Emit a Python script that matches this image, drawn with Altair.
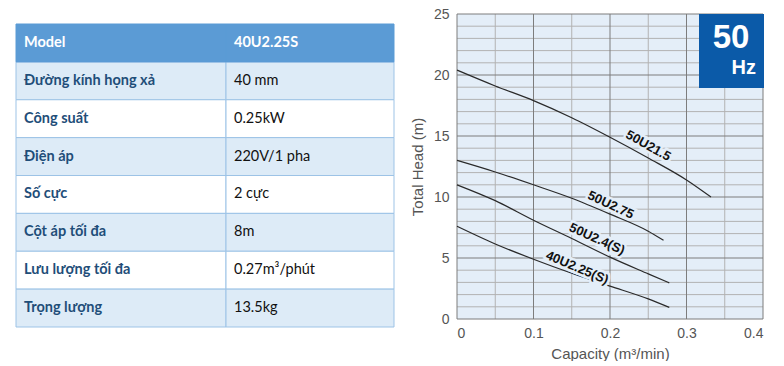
import altair as alt
import pandas as pd

# ---------------- data ----------------
spec_labels = ["Model", "Đường kính họng xả", "Công suất", "Điện áp", "Số cực",
               "Cột áp tối đa", "Lưu lượng tối đa", "Trọng lượng"]
spec_values = ["40U2.25S", "40 mm", "0.25kW", "220V/1 pha", "2 cực",
               "8m", "0.27m³/phút", "13.5kg"]

models = ["50U21.5", "50U2.75", "50U2.4(S)", "40U2.25(S)"]
cap_50U21_5 = [0, 0.05, 0.1, 0.15, 0.2, 0.25, 0.3, 0.332]
head_50U21_5 = [20.4, 19.1, 17.9, 16.5, 14.9, 13.2, 11.4, 10.0]
cap_50U2_75 = [0, 0.05, 0.1, 0.15, 0.2, 0.25, 0.27]
head_50U2_75 = [13.0, 12.05, 11.0, 9.9, 8.6, 7.2, 6.45]
cap_50U2_4S = [0, 0.05, 0.1, 0.15, 0.2, 0.25, 0.2775]
head_50U2_4S = [11.0, 9.7, 8.1, 6.6, 5.07, 3.7, 2.96]
cap_40U2_25S = [0, 0.05, 0.1, 0.15, 0.2, 0.25, 0.2775]
head_40U2_25S = [7.6, 6.15, 4.9, 3.75, 2.7, 1.65, 0.95]

label_cap = [0.250, 0.201, 0.183, 0.157]
label_head = [14.2, 9.34, 6.56, 4.2]
label_angle = [29, 25, 24, 23]

x_ticks = [0, 0.1, 0.2, 0.3, 0.4]
y_ticks = [0, 5, 10, 15, 20, 25]
x_grid = [round(0.05 * k, 2) for k in range(9)]
y_grid = list(range(0, 26))

# ---------------- table ----------------
HEADER_BLUE = "#5b9bd5"
ROW_BLUE = "#ddebf7"
BORDER = "#9dc3e6"
TXT_BLUE = "#1f4e79"
COL_SPLIT = 210 / 378  # fraction of table width for first column

rows = []
for i, (lab, val) in enumerate(zip(spec_labels, spec_values)):
    if i == 0:
        fill = HEADER_BLUE
    elif i % 2 == 1:
        fill = ROW_BLUE
    else:
        fill = "#ffffff"
    rows.append(dict(row=i, row2=i + 1, rowc=i + 0.5, x0=0, x1=COL_SPLIT, fill=fill,
                     text=lab, col=0))
    rows.append(dict(row=i, row2=i + 1, rowc=i + 0.5, x0=COL_SPLIT, x1=1, fill=fill,
                     text=val, col=1))
tdf = pd.DataFrame(rows)

TOP_OFFSET = 10 / 37.875
yscale = alt.Scale(domain=[-TOP_OFFSET, 8], reverse=True)
xscale = alt.Scale(domain=[0, 1])

tbase = alt.Chart(tdf)
cells_body = tbase.transform_filter("datum.row > 0").mark_rect(
    stroke=BORDER, strokeWidth=1).encode(
    x=alt.X("x0:Q", scale=xscale, axis=None),
    x2="x1:Q",
    y=alt.Y("row:Q", scale=yscale, axis=None),
    y2="row2:Q",
    fill=alt.Fill("fill:N", scale=None),
)
cells_head = tbase.transform_filter("datum.row == 0").mark_rect(
    fill=HEADER_BLUE, stroke=HEADER_BLUE, strokeWidth=1).encode(
    x=alt.X("x0:Q", scale=xscale, axis=None),
    x2="x1:Q",
    y=alt.Y("row:Q", scale=yscale, axis=None),
    y2="row2:Q",
)
txt_common = dict(align="left", baseline="middle", dx=8, font="Lato", fontSize=14.5)
txt_head = tbase.transform_filter("datum.row == 0").mark_text(
    color="white", fontWeight="bold", **txt_common).encode(
    x=alt.X("x0:Q", scale=xscale), y=alt.Y("rowc:Q", scale=yscale), text="text:N")
txt_lab = tbase.transform_filter("datum.row > 0 && datum.col == 0").mark_text(
    color=TXT_BLUE, fontWeight="bold", **txt_common).encode(
    x=alt.X("x0:Q", scale=xscale), y=alt.Y("rowc:Q", scale=yscale), text="text:N")
txt_val = tbase.transform_filter("datum.row > 0 && datum.col == 1").mark_text(
    color="#111111", fontWeight="normal", **txt_common).encode(
    x=alt.X("x0:Q", scale=xscale), y=alt.Y("rowc:Q", scale=yscale), text="text:N")

table = alt.layer(cells_body, cells_head, txt_head, txt_lab, txt_val).properties(
    width=378, height=313)

# ---------------- curve chart ----------------
curve_rows = []
for m, xs_, ys_ in [(models[0], cap_50U21_5, head_50U21_5),
                    (models[1], cap_50U2_75, head_50U2_75),
                    (models[2], cap_50U2_4S, head_50U2_4S),
                    (models[3], cap_40U2_25S, head_40U2_25S)]:
    for x, y in zip(xs_, ys_):
        curve_rows.append(dict(model=m, cap=x, head=y))
cdf = pd.DataFrame(curve_rows)
ldf = pd.DataFrame(dict(model=models, cap=label_cap, head=label_head, angle=label_angle))

BG = "#e4eef8"
MAJOR = "#7d7d7d"
MINOR = "#b2b2b2"

xaxis = alt.Axis(values=x_ticks, format="~g", ticks=False, domain=False, grid=False,
                 labelPadding=7, labelOverlap=False,
                 labelFont="Liberation Sans", labelFontSize=14, labelColor="#555555",
                 title="Capacity (m³/min)", titleFont="Liberation Sans", titleFontSize=15,
                 titleFontWeight="normal", titleColor="#555555", titlePadding=6)
yaxis = alt.Axis(values=y_ticks, ticks=False, domain=False, grid=False,
                 labelPadding=8, labelOverlap=False,
                 labelFont="Liberation Sans", labelFontSize=14, labelColor="#555555",
                 title="Total Head (m)", titleFont="Liberation Sans", titleFontSize=15,
                 titleFontWeight="normal", titleColor="#555555", titlePadding=8)

xs = alt.Scale(domain=[0, 0.4], nice=False)
ys = alt.Scale(domain=[0, 25], nice=False)

xg = pd.DataFrame(dict(v=x_grid))
xg["major"] = [round(v * 20) % 2 == 0 for v in x_grid]
yg = pd.DataFrame(dict(v=y_grid))
yg["major"] = [v % 5 == 0 for v in y_grid]

vgrid_minor = alt.Chart(xg).transform_filter("!datum.major").mark_rule(
    color=MINOR, strokeWidth=1).encode(x=alt.X("v:Q", scale=xs))
hgrid_minor = alt.Chart(yg).transform_filter("!datum.major").mark_rule(
    color=MINOR, strokeWidth=1).encode(y=alt.Y("v:Q", scale=ys))
vgrid_major = alt.Chart(xg).transform_filter("datum.major").mark_rule(
    color=MAJOR, strokeWidth=1).encode(x=alt.X("v:Q", scale=xs))
hgrid_major = alt.Chart(yg).transform_filter("datum.major").mark_rule(
    color=MAJOR, strokeWidth=1).encode(y=alt.Y("v:Q", scale=ys))

lines = alt.Chart(cdf).mark_line(color="#2a2a2a", strokeWidth=1.2, interpolate="monotone").encode(
    x=alt.X("cap:Q", scale=xs, axis=xaxis),
    y=alt.Y("head:Q", scale=ys, axis=yaxis),
    detail="model:N",
)
lab_common = dict(font="Liberation Sans", fontSize=13, fontWeight="bold", align="center", baseline="middle")
halo = alt.Chart(ldf).mark_text(color=BG, stroke=BG, strokeWidth=5, **lab_common).encode(
    x=alt.X("cap:Q", scale=xs), y=alt.Y("head:Q", scale=ys),
    text="model:N", angle=alt.Angle("angle:Q", scale=None))
labels = alt.Chart(ldf).mark_text(color="#111111", **lab_common).encode(
    x=alt.X("cap:Q", scale=xs), y=alt.Y("head:Q", scale=ys),
    text="model:N", angle=alt.Angle("angle:Q", scale=None))

box = alt.Chart(ldf.head(1)).mark_rect(color="#0b5aa8").encode(
    x=alt.value(242), x2=alt.value(307), y=alt.value(0), y2=alt.value(74))
hz50 = alt.Chart(ldf.head(1)).mark_text(
    text="50", color="white", font="Liberation Sans", fontWeight="bold", fontSize=33,
    align="center", baseline="alphabetic").encode(x=alt.value(274), y=alt.value(34))
hz = alt.Chart(ldf.head(1)).mark_text(
    text="Hz", color="white", font="Liberation Sans", fontWeight="bold", fontSize=20,
    align="right", baseline="alphabetic").encode(x=alt.value(299), y=alt.value(60))

curve = alt.layer(vgrid_minor, hgrid_minor, vgrid_major, hgrid_major,
                  lines, halo, labels, box, hz50, hz).properties(
    width=306, height=305, view=alt.ViewBackground(fill=BG, stroke=None))

chart = alt.hconcat(table, curve, spacing=63, bounds="flush").configure_view(
    stroke=None).properties(
    padding={"left": 15, "top": 7, "right": 0, "bottom": 0},
    background="white")

chart.save("out.html", embed_options={"renderer": "svg", "actions": False})
